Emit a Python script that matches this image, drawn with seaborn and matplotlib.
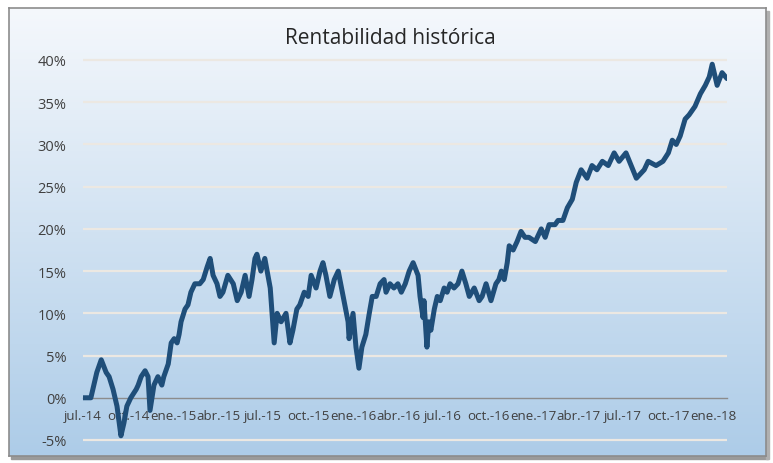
import numpy as np
import pandas as pd
import matplotlib
matplotlib.use("Agg")
import matplotlib.pyplot as plt
from matplotlib.patches import Rectangle
import seaborn as sns

# ---------------- data ----------------
dates = [
    "2014-07-01", "2014-07-17", "2014-07-23", "2014-07-29", "2014-08-07", "2014-08-17",
    "2014-08-23", "2014-08-31", "2014-09-08", "2014-09-16", "2014-09-22", "2014-09-28",
    "2014-10-06", "2014-10-17", "2014-10-21", "2014-10-27", "2014-11-04", "2014-11-10",
    "2014-11-14", "2014-11-22", "2014-11-30", "2014-12-08", "2014-12-12", "2014-12-21",
    "2014-12-27", "2015-01-02", "2015-01-08", "2015-01-12", "2015-01-16", "2015-01-24",
    "2015-01-30", "2015-02-05", "2015-02-13", "2015-02-23", "2015-03-02", "2015-03-10",
    "2015-03-16", "2015-03-22", "2015-03-30", "2015-04-05", "2015-04-11", "2015-04-21",
    "2015-05-02", "2015-05-10", "2015-05-18", "2015-05-26", "2015-06-03", "2015-06-09",
    "2015-06-15", "2015-06-19", "2015-06-27", "2015-07-05", "2015-07-16", "2015-07-24",
    "2015-07-30", "2015-08-07", "2015-08-17", "2015-08-25", "2015-08-31", "2015-09-08",
    "2015-09-14", "2015-09-23", "2015-10-01", "2015-10-07", "2015-10-17", "2015-10-25",
    "2015-10-31", "2015-11-06", "2015-11-14", "2015-11-23", "2015-12-01", "2015-12-11",
    "2015-12-21", "2015-12-23", "2015-12-31", "2016-01-06", "2016-01-12", "2016-01-18",
    "2016-01-26", "2016-02-02", "2016-02-08", "2016-02-16", "2016-02-24", "2016-03-03",
    "2016-03-07", "2016-03-15", "2016-03-23", "2016-03-31", "2016-04-07", "2016-04-15",
    "2016-04-23", "2016-05-01", "2016-05-11", "2016-05-15", "2016-05-21", "2016-05-23",
    "2016-05-29", "2016-06-02", "2016-06-06", "2016-06-13", "2016-06-19", "2016-06-25",
    "2016-07-03", "2016-07-09", "2016-07-15", "2016-07-23", "2016-07-31", "2016-08-08",
    "2016-08-16", "2016-08-23", "2016-09-02", "2016-09-12", "2016-09-18", "2016-09-26",
    "2016-10-06", "2016-10-16", "2016-10-22", "2016-10-27", "2016-11-02", "2016-11-08",
    "2016-11-12", "2016-11-20", "2016-11-28", "2016-12-06", "2016-12-14", "2016-12-22",
    "2017-01-04", "2017-01-16", "2017-01-24", "2017-02-01", "2017-02-13", "2017-02-19",
    "2017-03-01", "2017-03-10", "2017-03-20", "2017-03-28", "2017-04-07", "2017-04-19",
    "2017-04-29", "2017-05-09", "2017-05-20", "2017-06-01", "2017-06-13", "2017-06-23",
    "2017-07-07", "2017-07-28", "2017-08-13", "2017-08-21", "2017-09-06", "2017-09-20",
    "2017-10-01", "2017-10-09", "2017-10-17", "2017-10-25", "2017-11-04", "2017-11-12",
    "2017-11-24", "2017-12-05", "2017-12-15", "2017-12-23", "2017-12-29", "2018-01-08",
    "2018-01-18", "2018-01-28",
]
rentabilidad = [
    0.0, 0.0, 1.5, 3.0, 4.5, 3.0,
    2.5, 1.0, -1.0, -4.5, -3.0, -1.0,
    0.0, 1.0, 1.5, 2.5, 3.2, 2.5,
    -1.5, 1.5, 2.5, 1.5, 2.5, 4.0,
    6.5, 7.0, 6.5, 7.5, 9.0, 10.5,
    11.0, 12.5, 13.5, 13.5, 14.0, 15.5,
    16.5, 14.5, 13.5, 12.0, 12.5, 14.5,
    13.5, 11.5, 12.5, 14.5, 12.0, 14.0,
    16.5, 17.0, 15.0, 16.5, 13.0, 6.5,
    10.0, 9.0, 10.0, 6.5, 8.0, 10.5,
    11.0, 12.5, 12.0, 14.5, 13.0, 15.0,
    16.0, 14.5, 12.0, 14.0, 15.0, 12.0,
    9.0, 7.0, 10.0, 6.0, 3.5, 6.0,
    7.5, 10.0, 12.0, 12.0, 13.5, 14.0,
    12.5, 13.5, 13.0, 13.5, 12.5, 13.5,
    15.0, 16.0, 14.5, 12.0, 9.5, 11.5,
    6.0, 9.0, 8.0, 10.5, 12.0, 11.5,
    13.0, 12.5, 13.5, 13.0, 13.5, 15.0,
    13.5, 12.0, 13.0, 11.5, 12.0, 13.5,
    11.5, 13.5, 14.0, 15.0, 14.0, 16.0,
    18.0, 17.5, 18.5, 19.7, 19.0, 19.0,
    18.5, 20.0, 19.0, 20.5, 20.5, 21.0,
    21.0, 22.5, 23.5, 25.5, 27.0, 26.0,
    27.5, 27.0, 28.0, 27.5, 29.0, 28.0,
    29.0, 26.0, 27.0, 28.0, 27.5, 28.0,
    29.0, 30.5, 30.0, 31.0, 33.0, 33.5,
    34.5, 36.0, 37.0, 38.0, 39.5, 37.0,
    38.5, 37.8,
]
tick_dates = ["2014-07-01", "2014-10-01", "2015-01-01", "2015-04-01", "2015-07-01",
              "2015-10-01", "2016-01-01", "2016-04-01", "2016-07-01", "2016-10-01",
              "2017-01-01", "2017-04-01", "2017-07-01", "2017-10-01", "2018-01-01"]
tick_labels = ["jul.-14", "oct.-14", "ene.-15", "abr.-15", "jul.-15", "oct.-15",
               "ene.-16", "abr.-16", "jul.-16", "oct.-16", "ene.-17", "abr.-17",
               "jul.-17", "oct.-17", "ene.-18"]
y_ticks = [-5, 0, 5, 10, 15, 20, 25, 30, 35, 40]
y_labels = ["-5%", "0%", "5%", "10%", "15%", "20%", "25%", "30%", "35%", "40%"]
title = "Rentabilidad histórica"

df = pd.DataFrame({"fecha": pd.to_datetime(dates), "rent": rentabilidad})

# ---------------- figure ----------------
sns.set_theme(style="white")
plt.rcParams["font.family"] = ["Open Sans", "DejaVu Sans"]

W, H = 773, 464
fig = plt.figure(figsize=(W / 100, H / 100), dpi=100)
fig.patch.set_facecolor("white")

# background panel with vertical gradient
bx0, by0, bx1, by1 = 9, 9, 766, 457  # pixel box (top-left origin)
bg = fig.add_axes([bx0 / W, 1 - by1 / H, (bx1 - bx0) / W, (by1 - by0) / H], zorder=0)
grad = np.linspace(0, 1, 256).reshape(-1, 1)
top = np.array([0xf5, 0xf8, 0xfc]) / 255
bot = np.array([0xad, 0xcc, 0xe8]) / 255
img = top[None, None, :] * (1 - grad[:, :, None]) + bot[None, None, :] * grad[:, :, None]
bg.imshow(img, aspect="auto", extent=[0, 1, 0, 1], origin="upper")
bg.set_xlim(0, 1); bg.set_ylim(0, 1)
bg.set_xticks([]); bg.set_yticks([])
for s in bg.spines.values():
    s.set_color("#8c8c8c")
    s.set_linewidth(1.2)
fig.patches.append(Rectangle((bx0 / W + 2 / W, 1 - by1 / H - 3 / H), (bx1 - bx0) / W, 3 / H,
                             transform=fig.transFigure, color="#9a9a9a", zorder=-1))
fig.patches.append(Rectangle((bx1 / W, 1 - by1 / H - 3 / H), 3 / W, (by1 - by0) / H,
                             transform=fig.transFigure, color="#b0b0b0", zorder=-1))

# main axes
ymin, ymax = -5.3, 40.3
px_per = (441 - 61) / 45.0
ax_top = 61 - (ymax - 40) * px_per
ax_bot = 441 + (-5 - ymin) * px_per
ax_l, ax_r = 83, 727
ax = fig.add_axes([ax_l / W, 1 - ax_bot / H, (ax_r - ax_l) / W, (ax_bot - ax_top) / H], zorder=2)
ax.set_facecolor("none")

sns.lineplot(data=df, x="fecha", y="rent", ax=ax, color="#1f4e79", linewidth=3.6,
             zorder=3, solid_joinstyle="round", solid_capstyle="round")

ax.set_ylim(ymin, ymax)
ax.set_xlim(pd.Timestamp(dates[0]), pd.Timestamp(dates[-1]))

for yv in y_ticks:
    if yv != 0:
        ax.axhline(yv, color="#ece8e2", linewidth=1.6, zorder=1)

ax.set_yticks(y_ticks)
ax.set_yticklabels(y_labels)
ax.set_xticks(pd.to_datetime(tick_dates))
ax.set_xticklabels(tick_labels)

for s in ["top", "right", "left"]:
    ax.spines[s].set_visible(False)
ax.spines["bottom"].set_position(("data", 0))
ax.spines["bottom"].set_color("#8c8c8c")
ax.spines["bottom"].set_linewidth(1.0)
ax.spines["bottom"].set_zorder(2)

ax.tick_params(axis="x", direction="inout", length=10, width=1.0, color="#8c8c8c",
               labelsize=9.6, labelcolor="#404040", pad=3)
ax.tick_params(axis="y", length=0, labelsize=10.5, labelcolor="#404040", pad=12)
ax.set_xlabel("")
ax.set_ylabel("")

fig.text(390 / W, 1 - 38 / H, title, ha="center", va="center", fontsize=15, color="#262626")

fig.savefig("out.png", dpi=100, facecolor="white")
